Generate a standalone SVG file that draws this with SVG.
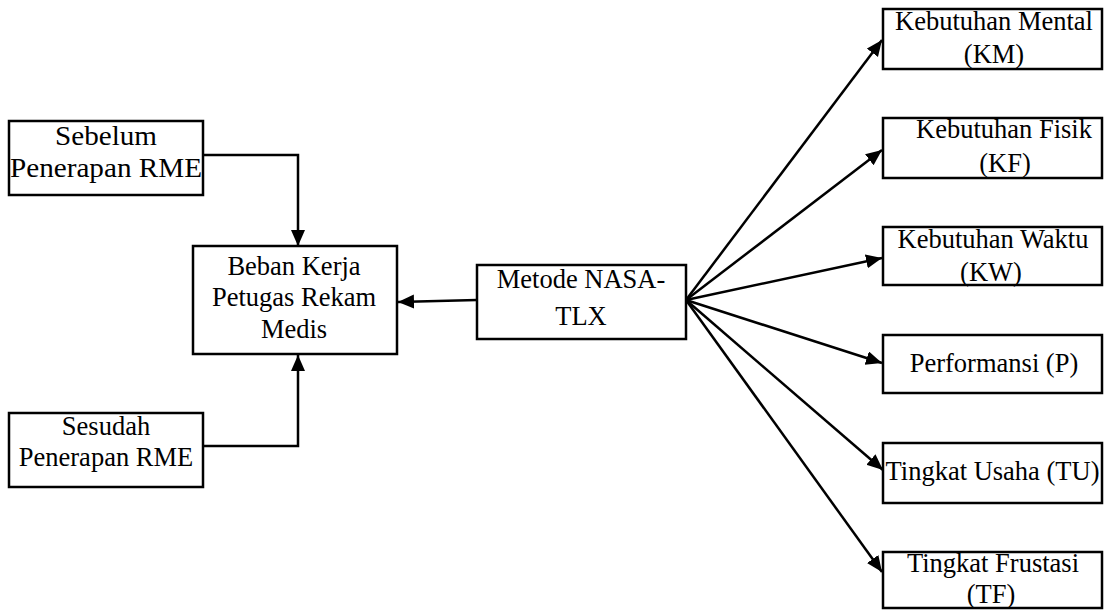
<svg xmlns="http://www.w3.org/2000/svg" width="1106" height="610" viewBox="0 0 1106 610">
<style>
.box{fill:#fff;stroke:#000;stroke-width:2.5}
text{font-family:"Liberation Serif","Times New Roman",serif;font-size:26.5px;fill:#000;text-anchor:middle}
.c{fill:none;stroke:#000;stroke-width:2.5}
</style>
<defs>
<marker id="ah" markerUnits="userSpaceOnUse" markerWidth="18" markerHeight="16" refX="16" refY="7" orient="auto">
<path d="M0,0 L16,7 L0,14 z" fill="#000"/>
</marker>
</defs>
<g id="connectors">
<path class="c" d="M203,155 H298 V246" marker-end="url(#ah)"/>
<path class="c" d="M203,446 H298 V355" marker-end="url(#ah)"/>
<path class="c" d="M477,300 L398,302" marker-end="url(#ah)"/>
<path class="c" d="M686,300 L882,40" marker-end="url(#ah)"/>
<path class="c" d="M686,300 L882,150" marker-end="url(#ah)"/>
<path class="c" d="M686,300 L882,258" marker-end="url(#ah)"/>
<path class="c" d="M686,300 L882,363" marker-end="url(#ah)"/>
<path class="c" d="M686,300 L883,470" marker-end="url(#ah)"/>
<path class="c" d="M686,300 L882,572" marker-end="url(#ah)"/>
</g>
<g id="sebelum">
<rect class="box" x="9" y="121" width="194" height="74"/>
<text x="106" y="145" textLength="102" lengthAdjust="spacingAndGlyphs">Sebelum</text>
<text x="106" y="177" textLength="192" lengthAdjust="spacingAndGlyphs">Penerapan RME</text>
</g>
<g id="sesudah">
<rect class="box" x="9" y="413" width="194" height="74"/>
<text x="106" y="435">Sesudah</text>
<text x="106" y="466">Penerapan RME</text>
</g>
<g id="beban">
<rect class="box" x="193" y="246" width="204" height="108"/>
<text x="294" y="275">Beban Kerja</text>
<text x="294" y="306">Petugas Rekam</text>
<text x="294" y="338">Medis</text>
</g>
<g id="nasa">
<rect class="box" x="477" y="265" width="209" height="74"/>
<text x="581" y="288">Metode NASA-</text>
<text x="581" y="325">TLX</text>
</g>
<g id="km">
<rect class="box" x="883" y="9" width="219" height="60"/>
<text x="994" y="30">Kebutuhan Mental</text>
<text x="994" y="63">(KM)</text>
</g>
<g id="kf">
<rect class="box" x="883" y="118" width="219" height="60"/>
<text x="1004" y="138">Kebutuhan Fisik</text>
<text x="1005" y="172">(KF)</text>
</g>
<g id="kw">
<rect class="box" x="883" y="227" width="219" height="58"/>
<text x="993" y="248">Kebutuhan Waktu</text>
<text x="991" y="281">(KW)</text>
</g>
<g id="p">
<rect class="box" x="883" y="335" width="219" height="58"/>
<text x="994" y="372">Performansi (P)</text>
</g>
<g id="tu">
<rect class="box" x="883" y="443" width="219" height="60"/>
<text x="992.5" y="480">Tingkat Usaha (TU)</text>
</g>
<g id="tf">
<rect class="box" x="883" y="552" width="219" height="56"/>
<text x="993" y="572">Tingkat Frustasi</text>
<text x="991" y="603">(TF)</text>
</g>
</svg>
